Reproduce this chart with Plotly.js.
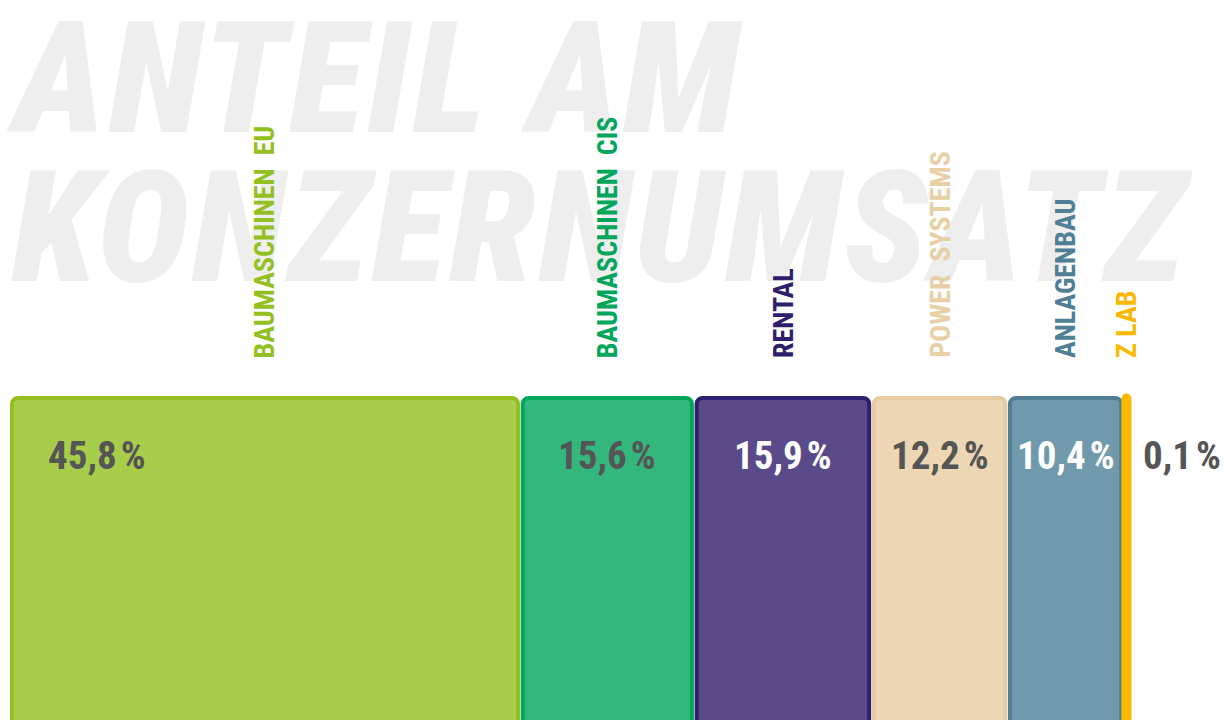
<!DOCTYPE html>
<html><head><meta charset="utf-8">
<script src="https://cdn.plot.ly/plotly-3.0.1.min.js"></script>
<style>html,body{margin:0;padding:0;background:#fff;} #chart{width:1224px;height:720px;}
text.annotation-text[style*="156px"]{letter-spacing:3.5px;}</style>
</head><body><div id="chart"></div>
<script>
// ---- data ----
const segments = ['BAUMASCHINEN\u00a0\u00a0EU','BAUMASCHINEN\u00a0\u00a0CIS','RENTAL','POWER\u00a0\u00a0SYSTEMS','ANLAGENBAU','Z LAB'];
const shares = [45.8, 15.6, 15.9, 12.2, 10.4, 0.1];
const titleLines = ['ANTEIL AM', 'KONZERNUMSATZ'];

// ---- styles ----
const fillColors  = ['#a8cd4a','#33b77c','#5a4a8a','#edd6b4','#7199ac','#fbb900'];
const lineColors  = ['#93c01f','#00a65a','#2e1f70','#e6cb9f','#4f7e95','#fbb900'];
const labelColors = ['#93c01f','#00a65a','#2d1f6b','#e8cfa5','#4f7f95','#fbb800'];
const valueColors = ['#555555','#555555','#ffffff','#555555','#ffffff','#555555'];
const FONT = '"Roboto Condensed", Roboto, sans-serif';
const GAP = 0.42;

let cum = 0; const starts = [];
shares.forEach(v => { starts.push(cum); cum += v; });
const widths = shares.map(v => v > 2 * GAP ? v - GAP : v);
const centers = starts.map((s, i) => s + widths[i] / 2);
const lineWidths = shares.map(v => v > 2 * GAP ? 4 : 9);

const trace = {
  type: 'bar',
  x: starts,
  y: shares.map(() => 1),
  width: widths,
  offset: 0,
  marker: { color: fillColors, line: { color: lineColors, width: lineWidths } },
  hoverinfo: 'skip',
  showlegend: false
};

const fmt = v => v.toFixed(1).replace('.', ',') + '\u200a%';

const annotations = [];
titleLines.forEach((t, i) => annotations.push({
  text: t, xref: 'paper', yref: 'paper', x: i === 0 ? 0.003 : 0.007, y: i === 0 ? 0.891 : 0.684,
  xanchor: 'left', yanchor: 'middle', showarrow: false,
  font: { family: FONT, size: 156, color: '#eeeeee', weight: 900, style: 'italic' }
}));
segments.forEach((s, i) => annotations.push({
  text: s, xref: 'x', yref: 'paper', x: centers[i], y: 0.5,
  xanchor: 'center', yanchor: 'bottom', textangle: -90, showarrow: false,
  font: { family: FONT, size: 28, color: labelColors[i], weight: 'bold' }
}));
shares.forEach((v, i) => {
  const a = {
    text: fmt(v), xref: 'x', yref: 'paper', x: centers[i], y: 0.367,
    xanchor: 'center', yanchor: 'middle', showarrow: false,
    font: { family: FONT, size: 39, color: valueColors[i], weight: 'bold' }
  };
  if (i === 0) { a.x = starts[i]; a.xanchor = 'left'; a.xshift = 34; }
  if (i === shares.length - 1) { a.xanchor = 'left'; a.xshift = 15; }
  annotations.push(a);
});

const layout = {
  width: 1224, height: 720,
  margin: { l: 0, r: 0, t: 0, b: 0 },
  paper_bgcolor: '#ffffff', plot_bgcolor: '#ffffff',
  barcornerradius: 6,
  xaxis: { range: [-1.076, 108.70], visible: false, fixedrange: true },
  yaxis: { range: [0.1105, 2.0994], visible: false, fixedrange: true },
  annotations: annotations
};

Plotly.newPlot('chart', [trace], layout, { staticPlot: true, displayModeBar: false });
</script>
</body></html>
